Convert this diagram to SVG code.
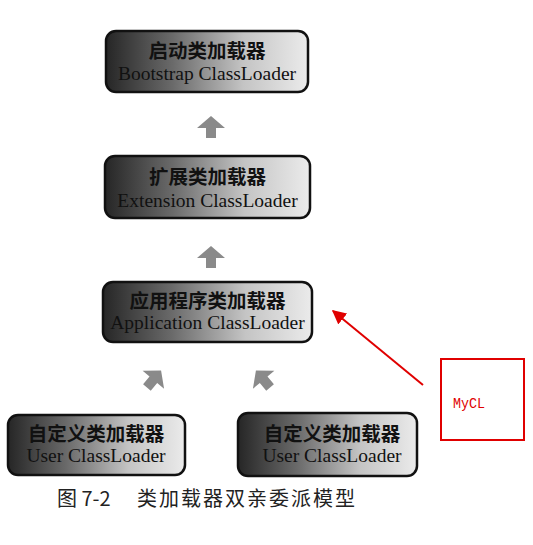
<svg xmlns="http://www.w3.org/2000/svg" width="533" height="545" viewBox="0 0 533 545">
<defs>
<linearGradient id="g" x1="0" y1="0" x2="1" y2="0">
<stop offset="0" stop-color="#262626"/>
<stop offset="0.33" stop-color="#6a6a6a"/>
<stop offset="0.68" stop-color="#c4c4c4"/>
<stop offset="1" stop-color="#ebebeb"/>
</linearGradient>
<path id="up" d="M0,-11 L14,1 L5,1 L5,11 L-5,11 L-5,1 L-14,1 Z"/>
<marker id="rh" viewBox="0 0 10 10" refX="9" refY="5" markerWidth="7" markerHeight="7" orient="auto" markerUnits="strokeWidth">
<path d="M0,0 L10,5 L0,10 Z" fill="#e00000"/>
</marker>
</defs>
<style>
.box{fill:url(#g);stroke:#111;stroke-width:2.5}
.cn{font-family:"Noto Sans CJK SC",sans-serif;font-weight:700;font-size:19.5px;fill:#111;text-anchor:middle}
.en{font-family:"Liberation Serif",serif;font-size:19.5px;fill:#111;text-anchor:middle}
.ga{fill:#8a8a8a}
</style>
<rect width="533" height="545" fill="#fff"/>
<g id="bootstrap">
<rect class="box" x="106" y="31" width="202" height="61" rx="10"/>
<text class="cn" x="207" y="58">启动类加载器</text>
<text class="en" x="207" y="80">Bootstrap ClassLoader</text>
</g>
<g id="extension">
<rect class="box" x="105" y="156" width="205" height="62" rx="10"/>
<text class="cn" x="207.5" y="184">扩展类加载器</text>
<text class="en" x="207.5" y="207">Extension ClassLoader</text>
</g>
<g id="application">
<rect class="box" x="103" y="282" width="209" height="60" rx="10"/>
<text class="cn" x="207.5" y="308">应用程序类加载器</text>
<text class="en" x="207.5" y="329">Application ClassLoader</text>
</g>
<g id="user1">
<rect class="box" x="8" y="415" width="177" height="60" rx="10"/>
<text class="cn" x="96" y="441">自定义类加载器</text>
<text class="en" x="96" y="462">User ClassLoader</text>
</g>
<g id="user2">
<rect class="box" x="238" y="413" width="179" height="63" rx="10"/>
<text class="cn" x="332" y="441">自定义类加载器</text>
<text class="en" x="332" y="462">User ClassLoader</text>
</g>
<g id="mycl">
<rect x="441" y="359" width="83" height="81" fill="#fff" stroke="#e00000" stroke-width="2"/>
<text x="453" y="408" font-family="Liberation Mono, monospace" font-size="14" textLength="32" lengthAdjust="spacingAndGlyphs" fill="#e00000">MyCL</text>
</g>
<g id="connectors">
<use href="#up" class="ga" transform="translate(211,127)"/>
<use href="#up" class="ga" transform="translate(211,257)"/>
<use href="#up" class="ga" transform="translate(154,379) rotate(40)"/>
<use href="#up" class="ga" transform="translate(263,379) rotate(-40)"/>
<line x1="423" y1="385" x2="333" y2="311" stroke="#e00000" stroke-width="2" marker-end="url(#rh)"/>
</g>
<text x="57" y="506" font-family="Noto Sans CJK SC, sans-serif" font-size="20" fill="#222">图 7-2</text>
<text x="137" y="506" font-family="Noto Sans CJK SC, sans-serif" font-size="20" fill="#222" letter-spacing="2">类加载器双亲委派模型</text>
</svg>
